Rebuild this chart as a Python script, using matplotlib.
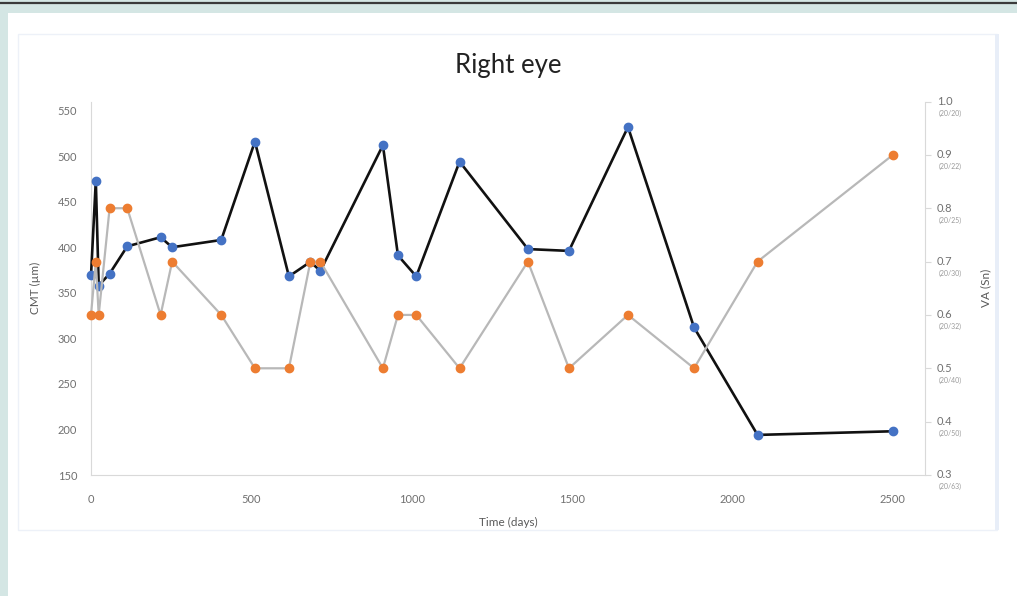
import matplotlib.pyplot as plt
from matplotlib.patches import Rectangle
from matplotlib.lines import Line2D
import matplotlib.transforms as mtransforms

plt.rcParams['font.family'] = ['Lato', 'DejaVu Sans']

# follow-up visits (days) with central macular thickness and visual acuity
days = [0, 15, 24, 58, 113, 217, 253, 406, 511, 617, 684, 715,
        910, 957, 1014, 1149, 1362, 1490, 1674, 1880, 2078, 2500]
cmt = [369, 473, 358, 371, 401, 411, 400, 408, 516, 368, 384, 374,
       512, 391, 368, 494, 398, 396, 532, 312, 194, 198]
va = [0.6, 0.7, 0.6, 0.8, 0.8, 0.6, 0.7, 0.6, 0.5, 0.5, 0.7, 0.7,
      0.5, 0.6, 0.6, 0.5, 0.7, 0.5, 0.6, 0.5, 0.7, 0.9]

cmt_ticks = [150, 200, 250, 300, 350, 400, 450, 500, 550]
day_ticks = [0, 500, 1000, 1500, 2000, 2500]
va_ticks = [0.3, 0.4, 0.5, 0.6, 0.7, 0.8, 0.9, 1.0]
snellen = ['20/63', '20/50', '20/40', '20/32', '20/30', '20/25', '20/22', '20/20']

W, H = 1017, 596
fig = plt.figure(figsize=(W / 100, H / 100), dpi=100)
fig.patch.set_facecolor('#d4e6e4')

# page panel and chart frame, kept behind the axes
def px_rect(x0, y0, x1, y1, **kw):
    fig.patches.append(Rectangle((x0 / W, 1 - y1 / H), (x1 - x0) / W, (y1 - y0) / H,
                                 transform=fig.transFigure, zorder=-5, **kw))

px_rect(8, 13, W, H, facecolor='white', edgecolor='none')
px_rect(18, 34, 997, 530, facecolor='white', edgecolor='#edf1f8', linewidth=1.0)
px_rect(995, 34, 999, 530, facecolor='#e8eef8', edgecolor='none')
fig.lines.append(Line2D([0, 1], [1 - 2.5 / H, 1 - 2.5 / H], transform=fig.transFigure,
                        color='#3a3a3a', linewidth=1.6))

ax = fig.add_axes([91 / W, 1 - 475 / H, (925 - 91) / W, (475 - 101.5) / H])
ax.set_facecolor('none')
ax2 = ax.twinx()

ax.plot(days, cmt, color='#111111', linewidth=1.9, marker='o', markersize=6,
        markerfacecolor='#4472C4', markeredgecolor='#4472C4', zorder=3, clip_on=False)
ax2.plot(days, va, color='#b8b8b8', linewidth=1.6, marker='o', markersize=6,
         markerfacecolor='#ED7D31', markeredgecolor='#ED7D31', zorder=3, clip_on=False)

ax.set_xlim(0, 2600)
ax.set_ylim(150, 560)
ax2.set_ylim(0.3, 1.0)

ax.set_xticks(day_ticks)
ax.set_yticks(cmt_ticks)
ax.tick_params(axis='both', length=0, labelsize=8, labelcolor='#707070')
ax.tick_params(axis='x', pad=14)
ax.tick_params(axis='y', pad=10)

for name in ['top', 'right']:
    ax.spines[name].set_visible(False)
for name in ['top', 'left', 'bottom']:
    ax2.spines[name].set_visible(False)
ax.spines['left'].set_color('#d9d9d9')
ax.spines['bottom'].set_color('#d9d9d9')
ax2.spines['right'].set_color('#d9d9d9')

# right axis: decimal acuity with the Snellen equivalent underneath
ax2.set_yticks(va_ticks)
ax2.set_yticklabels([])
ax2.tick_params(axis='y', length=4, color='#d9d9d9', direction='out')
trans = mtransforms.blended_transform_factory(ax2.transAxes, ax2.transData)
for v, s in zip(va_ticks, snellen):
    ax2.text(1.014, v, f'{v:.1f}', transform=trans, ha='left', va='center',
             fontsize=8, color='#707070')
    ax2.annotate(f'({s})', xy=(1.016, v), xycoords=trans, xytext=(0, -8.5),
                 textcoords='offset points', ha='left', va='center',
                 fontsize=5, color='#9a9a9a')

ax.set_xlabel('Time (days)', fontsize=8.5, color='#595959', labelpad=8)
ax.set_ylabel('CMT (µm)', fontsize=8.5, color='#595959', labelpad=12)
ax2.set_ylabel('VA (Sn)', fontsize=8.5, color='#595959', labelpad=32)

fig.text(508 / W, 1 - 66 / H, 'Right eye', ha='center', va='center',
         fontsize=18.5, color='#222222')

plt.savefig('out.png', dpi=100)
plt.close()
